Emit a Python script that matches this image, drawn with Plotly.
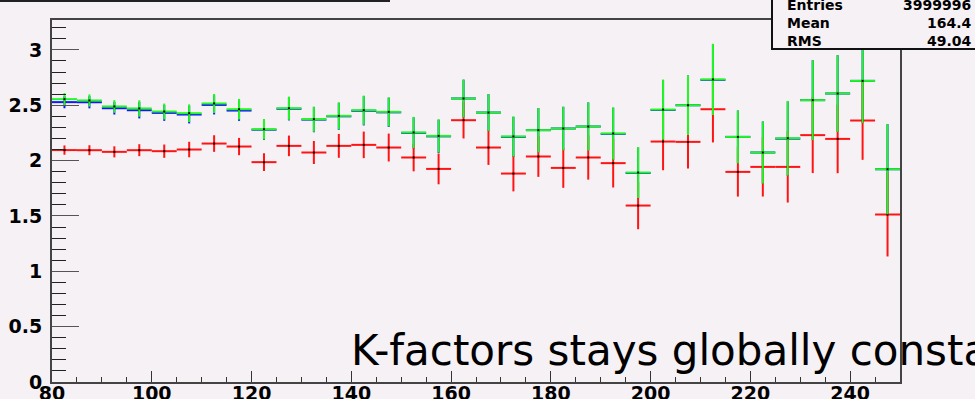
import plotly.graph_objects as go

# ---------------- data ----------------
bin_centers = [82.5 + 5 * i for i in range(34)]
bin_half_width = 2.5

green_vals = [2.555, 2.543, 2.489, 2.471, 2.443, 2.428, 2.516, 2.464, 2.283, 2.473,
              2.374, 2.404, 2.455, 2.440, 2.254, 2.223, 2.561, 2.434, 2.218, 2.275,
              2.290, 2.308, 2.245, 1.892, 2.461, 2.500, 2.733, 2.214, 2.073, 2.202,
              2.546, 2.606, 2.720, 1.922]
green_errs = [0.055, 0.055, 0.057, 0.074, 0.072, 0.080, 0.086, 0.093, 0.093, 0.105,
              0.114, 0.122, 0.132, 0.132, 0.141, 0.150, 0.170, 0.166, 0.181, 0.200,
              0.196, 0.217, 0.236, 0.230, 0.271, 0.268, 0.322, 0.238, 0.280, 0.337,
              0.361, 0.346, 0.380, 0.407]

blue_vals = [2.528, 2.527, 2.473, 2.455, 2.431, 2.416, 2.503, 2.452, 2.279, 2.468,
             2.370, 2.400, 2.450, 2.436, 2.250, 2.219, 2.561, 2.434, 2.214, 2.275,
             2.290, 2.308, 2.241, 1.888, 2.457, 2.500, 2.729, 2.214, 2.073, 2.198,
             2.546, 2.606, 2.720, 1.922]
blue_errs = green_errs

red_vals = [2.095, 2.094, 2.079, 2.094, 2.085, 2.100, 2.154, 2.127, 1.986, 2.133,
            2.073, 2.133, 2.142, 2.118, 2.028, 1.925, 2.365, 2.118, 1.883, 2.037,
            1.934, 2.028, 1.977, 1.594, 2.172, 2.169, 2.464, 1.898, 1.943, 1.943,
            2.230, 2.196, 2.362, 1.513]
red_errs = [0.042, 0.045, 0.050, 0.054, 0.060, 0.070, 0.075, 0.078, 0.081, 0.093,
            0.104, 0.108, 0.120, 0.126, 0.125, 0.139, 0.165, 0.157, 0.161, 0.184,
            0.180, 0.200, 0.220, 0.214, 0.259, 0.241, 0.300, 0.223, 0.268, 0.322,
            0.343, 0.310, 0.355, 0.379]

x_tickvals = [80, 100, 120, 140, 160, 180, 200, 220, 240]
x_ticktext = ["80", "100", "120", "140", "160", "180", "200", "220", "240"]
y_tickvals = [0, 0.5, 1, 1.5, 2, 2.5, 3]
y_ticktext = ["0", "0.5", "1", "1.5", "2", "2.5", "3"]

stats_labels = ["Entries", "Mean", "RMS"]
stats_values = ["3999996", "164.4", "49.04"]
caption = "K-factors stays globally constant"

# ---------------- style ----------------
W, H = 975, 399
ML, MR, MT, MB = 52, 75, 20, 17
BG = "#f5f1f5"
FONT = "DejaVu Sans"


def px_x(p):
    return (p - ML) / (W - ML - MR)


def px_y(p):
    return (H - MB - p) / (H - MT - MB)


def series(vals, errs, color):
    return go.Scatter(
        x=bin_centers, y=vals, mode="markers",
        marker=dict(size=2, color="black", symbol="square"),
        error_x=dict(type="constant", value=bin_half_width, color=color, thickness=2, width=0),
        error_y=dict(type="data", array=errs, color=color, thickness=2, width=0),
        hoverinfo="x+y", showlegend=False,
    )


fig = go.Figure()
fig.add_trace(series(blue_vals, blue_errs, "rgb(20,20,255)"))
fig.add_trace(series(red_vals, red_errs, "rgb(255,20,20)"))
fig.add_trace(series(green_vals, green_errs, "rgb(30,250,30)"))

tickfont = dict(family=FONT, size=19, color="black", weight="bold")

fig.update_xaxes(
    range=[80, 250], tickmode="array", tickvals=x_tickvals, ticktext=x_ticktext,
    ticks="inside", ticklen=11, tickwidth=1, tickcolor="#333",
    minor=dict(dtick=5, tick0=80, ticks="inside", ticklen=5, tickwidth=1, tickcolor="#333"),
    showgrid=False, zeroline=False, showline=True, linecolor="#444", linewidth=2,
    mirror=True, tickfont=tickfont, ticklabelstandoff=-7, automargin=False,
)
fig.update_yaxes(
    range=[0, 3.27], tickmode="array", tickvals=y_tickvals, ticktext=y_ticktext,
    ticks="inside", ticklen=27, tickwidth=1, tickcolor="#555",
    minor=dict(dtick=0.1, tick0=0, ticks="inside", ticklen=14, tickwidth=1, tickcolor="#222"),
    showgrid=False, zeroline=False, showline=True, linecolor="#444", linewidth=2,
    mirror=True, tickfont=tickfont, ticklabelstandoff=4, automargin=False,
)

shapes = [
    # bottom edge of clipped title box
    dict(type="line", xref="paper", yref="paper", x0=px_x(0), x1=px_x(390),
         y0=px_y(1), y1=px_y(1), line=dict(color="#222", width=2)),
    # stats box
    dict(type="rect", xref="paper", yref="paper", x0=px_x(772), x1=px_x(1000),
         y0=px_y(49), y1=px_y(-10), fillcolor=BG, line=dict(color="#111", width=2),
         layer="above"),
]

stats_font = dict(family=FONT, size=14, color="black", weight="bold")
annotations = [
    dict(xref="paper", yref="paper", x=px_x(785), y=px_y(23),
         text="<br>".join(stats_labels), showarrow=False, xanchor="left",
         yanchor="middle", align="left", font=stats_font),
    dict(xref="paper", yref="paper", x=px_x(973), y=px_y(23),
         text="<br>".join(stats_values), showarrow=False, xanchor="right",
         yanchor="middle", align="right", font=stats_font),
    dict(xref="paper", yref="paper", x=px_x(349), y=px_y(350),
         text=caption, showarrow=False, xanchor="left", yanchor="middle",
         font=dict(family=FONT, size=42, color="black")),
]

fig.update_layout(
    width=W, height=H, margin=dict(l=ML, r=MR, t=MT, b=MB, pad=0, autoexpand=False),
    paper_bgcolor=BG, plot_bgcolor=BG, showlegend=False,
    shapes=shapes, annotations=annotations,
)

fig.write_html("out.html")
